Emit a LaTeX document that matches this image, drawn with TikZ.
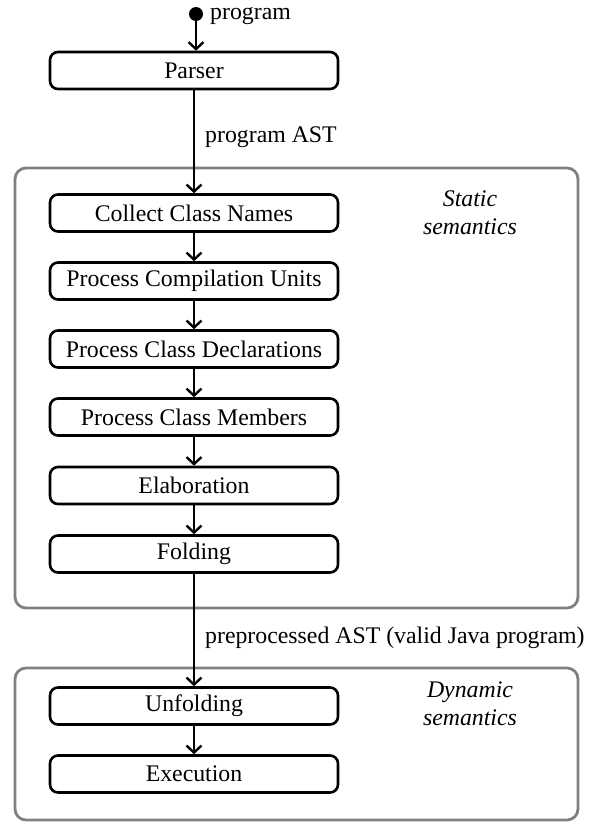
\documentclass[tikz,border=0pt]{standalone}
\usepackage{fontspec}
\setmainfont{Liberation Serif}
\usetikzlibrary{arrows.meta}
\begin{document}
\begin{tikzpicture}[x=1pt,y=-1pt,
  stage/.style={draw, line width=2.6pt, rounded corners=8pt, minimum width=288pt, minimum height=37pt, inner sep=0pt, font=\fontsize{23.8}{28}\selectfont},
  flow/.style={line width=2.4pt, -{Straight Barb[length=7pt,width=15pt,line width=2.4pt]}},
  group/.style={draw=black!50, line width=2.8pt, rounded corners=11pt},
  lbl/.style={font=\fontsize{23.8}{28}\selectfont, inner sep=0pt},
  grouplbl/.style={font=\fontsize{23.8}{28}\itshape, align=center, inner sep=0pt}
]
\useasboundingbox (0,0) rectangle (599,825);
\draw[group] (15,168) rectangle (578,608);
\draw[group] (15,668) rectangle (578,820);
\fill (196,14) circle (7);
\coordinate (start) at (196,14);
\node[lbl, anchor=base west] (prog) at (210,19) {program};
\node[stage] (parser) at (194,70.5) {Parser};
\node[stage] (ccn) at (194,213) {Collect Class Names};
\node[stage] (pcu) at (194,281) {Process Compilation Units};
\node[stage] (pcd) at (194,349) {Process Class Declarations};
\node[stage] (pcm) at (194,417) {Process Class Members};
\node[stage] (elab) at (194,485.5) {Elaboration};
\node[stage] (fold) at (194,554) {Folding};
\node[stage] (unfold) at (194,706) {Unfolding};
\node[stage] (exec) at (194,774) {Execution};
\node[grouplbl] (stat) at (470,213) {Static\\semantics};
\node[grouplbl] (dyn) at (470,704) {Dynamic\\semantics};
\node[lbl, anchor=west] (ast) at (205,137) {program AST};
\node[lbl, anchor=west] (past) at (205,638) {preprocessed AST (valid Java program)};
\draw[flow] (start) -- (parser.north -| start);
\draw[flow] (parser) -- (ccn);
\draw[flow] (ccn) -- (pcu);
\draw[flow] (pcu) -- (pcd);
\draw[flow] (pcd) -- (pcm);
\draw[flow] (pcm) -- (elab);
\draw[flow] (elab) -- (fold);
\draw[flow] (fold) -- (unfold);
\draw[flow] (unfold) -- (exec);
\end{tikzpicture}
\end{document}
